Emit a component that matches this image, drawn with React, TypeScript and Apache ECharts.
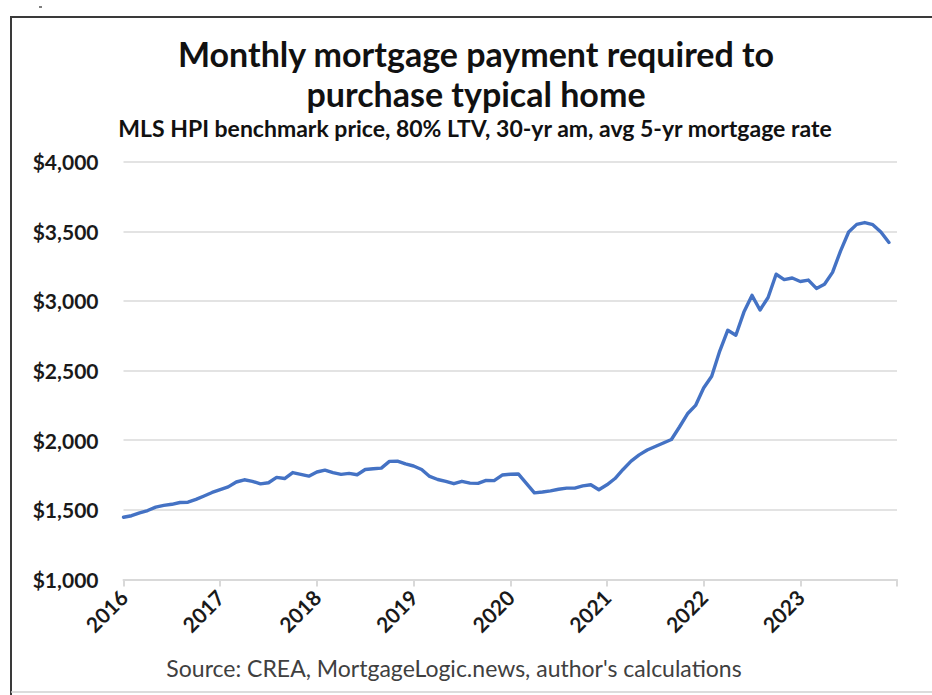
import React, { useEffect, useRef } from "react";
import * as echarts from "echarts";

const titleLines = ["Monthly mortgage payment required to", "purchase typical home"];
const subtitle = "MLS HPI benchmark price, 80% LTV, 30-yr am, avg 5-yr mortgage rate";
const sourceNote = "Source: CREA, MortgageLogic.news, author's calculations";

const firstYear = 2016;
const yearLabels = ["2016", "2017", "2018", "2019", "2020", "2021", "2022", "2023"];
const yTickValues = [1000, 1500, 2000, 2500, 3000, 3500, 4000];

// Monthly payment, Jan..Dec of each year
const payment2016 = [1447, 1458, 1478, 1495, 1520, 1532, 1540, 1553, 1555, 1575, 1600, 1625];
const payment2017 = [1645, 1665, 1700, 1716, 1705, 1687, 1695, 1733, 1725, 1768, 1755, 1742];
const payment2018 = [1772, 1785, 1768, 1755, 1762, 1752, 1790, 1795, 1800, 1848, 1850, 1830];
const payment2019 = [1815, 1790, 1740, 1718, 1705, 1688, 1705, 1692, 1690, 1712, 1710, 1750];
const payment2020 = [1756, 1758, 1690, 1622, 1628, 1636, 1648, 1656, 1656, 1672, 1680, 1644];
const payment2021 = [1680, 1725, 1790, 1850, 1895, 1930, 1955, 1980, 2005, 2095, 2190, 2250];
const payment2022 = [2375, 2460, 2640, 2790, 2754, 2920, 3040, 2935, 3025, 3192, 3153, 3165];
const payment2023 = [3140, 3150, 3090, 3120, 3205, 3360, 3495, 3550, 3563, 3548, 3495, 3420];

const allPayments = [
  ...payment2016, ...payment2017, ...payment2018, ...payment2019,
  ...payment2020, ...payment2021, ...payment2022, ...payment2023,
];

const FONT = "Lato, 'Open Sans', sans-serif";

export default function App() {
  const ref = useRef<HTMLDivElement>(null);

  useEffect(() => {
    if (!ref.current) return;
    const chart = echarts.init(ref.current, undefined, { renderer: "svg" });
    const seriesData = allPayments.map((v, i) => [firstYear + i / 12, v]);
    const yMin = yTickValues[0];
    const yMax = yTickValues[yTickValues.length - 1];
    const yStep = yTickValues[1] - yTickValues[0];

    const centered = (text: string, x: number, y: number, font: string, fill: string) => ({
      type: "text",
      x,
      y,
      style: { text, fill, font, align: "center", verticalAlign: "middle", textAlign: "center", textVerticalAlign: "middle" },
    });

    chart.setOption({
      animation: false,
      backgroundColor: "#ffffff",
      grid: { left: 123.5, right: 35, top: 161.7, bottom: 115.5, containLabel: false },
      xAxis: {
        type: "value",
        min: firstYear,
        max: firstYear + yearLabels.length,
        interval: 1,
        axisLine: { show: true, lineStyle: { color: "#d9d9d9", width: 2 } },
        axisTick: { show: true, length: 7, lineStyle: { color: "#d9d9d9", width: 2 } },
        splitLine: { show: false },
        axisLabel: {
          rotate: 45,
          margin: 14,
          color: "#1a1a1a",
          fontFamily: FONT,
          fontWeight: "bold",
          fontSize: 21,
          formatter: (v: number) => yearLabels[Math.round(v - firstYear)] ?? "",
        },
      },
      yAxis: {
        type: "value",
        min: yMin,
        max: yMax,
        interval: yStep,
        axisLine: { show: false },
        axisTick: { show: false },
        splitLine: { show: true, lineStyle: { color: "#e3e3e3", width: 2 } },
        axisLabel: {
          margin: 25,
          color: "#1a1a1a",
          fontFamily: FONT,
          fontWeight: "bold",
          fontSize: 21,
          formatter: (v: number) => "$" + v.toLocaleString("en-US"),
        },
      },
      series: [
        {
          type: "line",
          data: seriesData,
          showSymbol: false,
          symbol: "none",
          lineStyle: { color: "#4472C4", width: 3.4, join: "round", cap: "round" },
          z: 5,
        },
      ],
      graphic: [
        { type: "line", shape: { x1: 10, y1: 17, x2: 932, y2: 17 }, style: { stroke: "#3a3a3a", lineWidth: 2 } },
        { type: "line", shape: { x1: 11, y1: 17, x2: 11, y2: 695 }, style: { stroke: "#3a3a3a", lineWidth: 2 } },
        { type: "line", shape: { x1: 11, y1: 692, x2: 932, y2: 692 }, style: { stroke: "#d0d0d0", lineWidth: 1.5 } },
        { type: "line", shape: { x1: 39, y1: 7, x2: 42, y2: 7 }, style: { stroke: "#555", lineWidth: 1.5 } },
        centered(titleLines[0], 476, 53, `bold 34px ${FONT}`, "#111"),
        centered(titleLines[1], 476, 93, `bold 34px ${FONT}`, "#111"),
        centered(subtitle, 475, 128, `bold 23px ${FONT}`, "#111"),
        centered(sourceNote, 454, 668, `23px ${FONT}`, "#404040"),
      ],
    });
    return () => chart.dispose();
  }, []);

  return (
    <div
      ref={ref}
      style={{ position: "fixed", left: 0, top: 0, width: 932, height: 695, background: "#fff" }}
    />
  );
}
